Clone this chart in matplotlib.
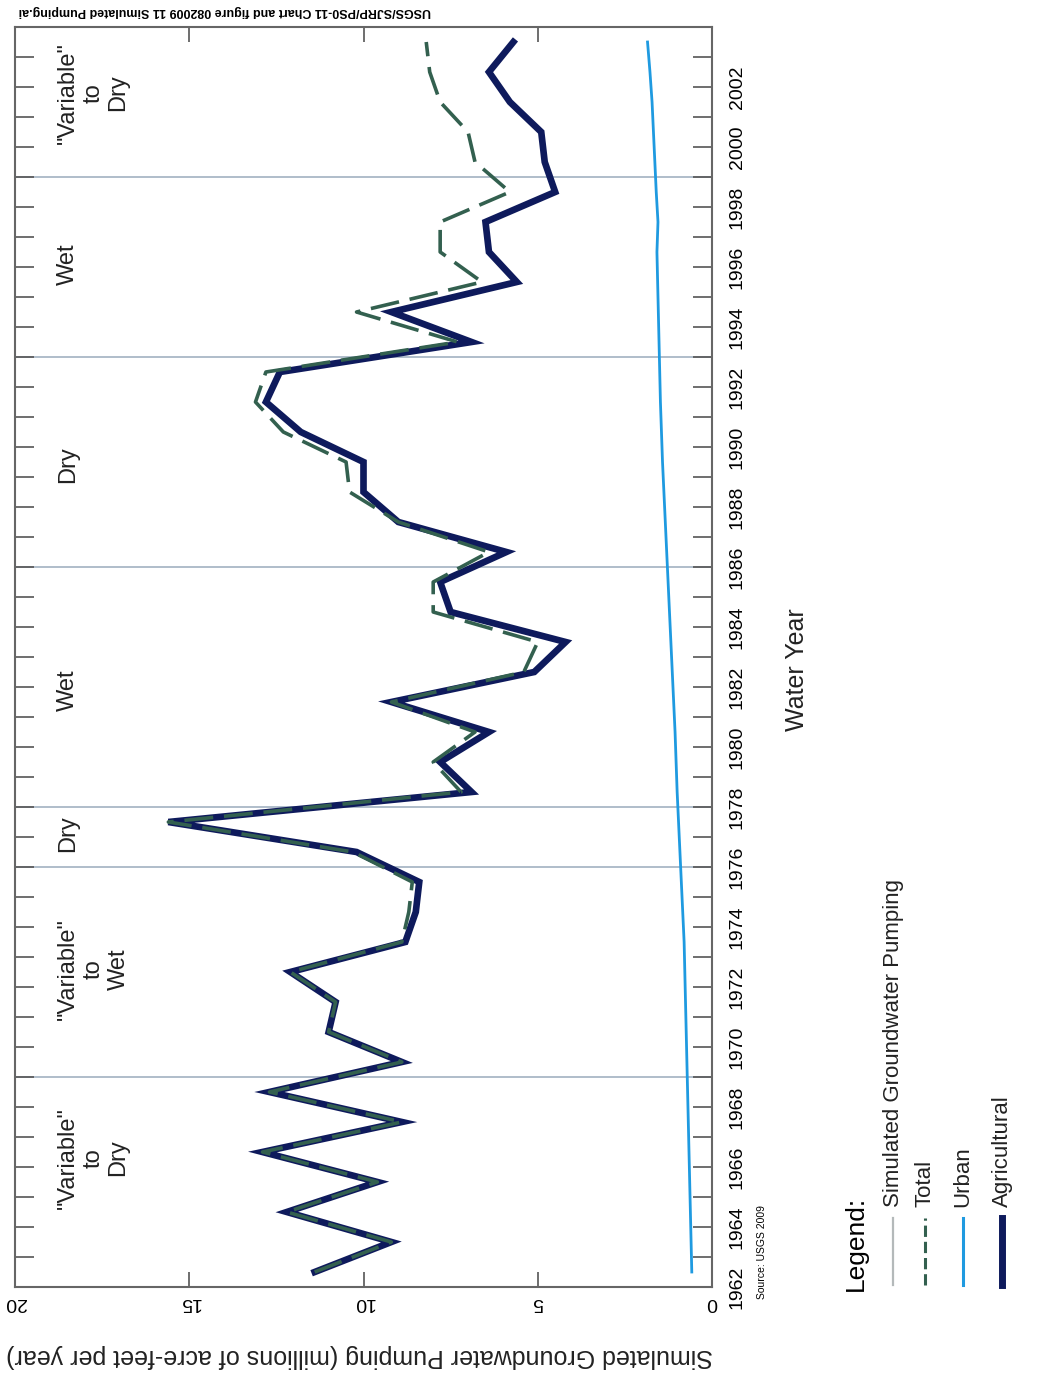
# -*- coding: utf-8 -*-
# Simulated groundwater pumping, drawn turned a quarter turn (years run upward)

import numpy as np
import matplotlib.pyplot as plt
from matplotlib import font_manager
from matplotlib.lines import Line2D

#  字体：有窄体就用窄体
names = {f.name for f in font_manager.fontManager.ttflist}
ziti = 'Liberation Sans Narrow' if 'Liberation Sans Narrow' in names else 'Liberation Sans'
plt.rcParams['font.family'] = [ziti, 'DejaVu Sans']

#  数据
years = list(range(1962, 2004))
agricultural = [11.4, 9.2, 12.2, 9.6, 12.9, 8.9, 12.7, 8.9, 11.0, 10.8,
                12.1, 8.8, 8.5, 8.4, 10.2, 15.6, 6.9, 7.8, 6.4, 9.2,
                5.1, 4.2, 7.5, 7.8, 5.9, 9.0, 10.0, 10.0, 11.8, 12.8,
                12.4, 6.9, 9.2, 5.6, 6.4, 6.5, 4.5, 4.8, 4.9, 5.8,
                6.4, 5.7]
total = [11.4, 9.2, 12.2, 9.6, 12.9, 8.9, 12.7, 8.9, 11.0, 10.8,
         12.1, 8.9, 8.7, 8.6, 10.3, 15.6, 7.2, 8.0, 6.8, 9.2,
         5.4, 5.0, 8.0, 8.0, 6.4, 9.0, 10.4, 10.5, 12.3, 13.1,
         12.8, 7.3, 10.2, 6.6, 7.8, 7.8, 5.8, 6.8, 7.0, 7.8,
         8.1, 8.2]
urban = [0.58, 0.6, 0.62, 0.64, 0.66, 0.68, 0.7, 0.72, 0.74, 0.76,
         0.78, 0.8, 0.84, 0.88, 0.92, 0.96, 1.0, 1.03, 1.06, 1.1,
         1.14, 1.18, 1.22, 1.26, 1.3, 1.34, 1.38, 1.42, 1.45, 1.48,
         1.5, 1.52, 1.54, 1.56, 1.58, 1.55, 1.6, 1.64, 1.68, 1.72,
         1.78, 1.85]

#  时期分界和名称
boundaries = [1968.5, 1975.5, 1977.5, 1985.5, 1992.5, 1998.5]
period_names = ['"Variable"\nto\nDry', '"Variable"\nto\nWet', 'Dry', 'Wet',
                'Dry', 'Wet', '"Variable"\nto\nDry']
period_pos = [1965.8, 1972.1, 1976.6, 1981.4, 1988.9, 1995.6, 2001.3]

#  颜色
navy = '#0e1a5c'
green = '#33604f'
blue = '#1f9ae0'
grey = '#b4b9ba'

fig = plt.figure(figsize=(10.45, 13.73), dpi=100)
W, H = 1045.0, 1373.0
ax = fig.add_axes([15 / W, 1 - 1287 / H, 697 / W, 1260 / H])

#  分界线
for b in boundaries:
    ax.axhline(b, color='#a9b8c6', lw=1.3, zorder=1)

#  曲线
ax.plot(urban, years, color=blue, lw=2, zorder=3)
ax.plot(agricultural, years, color=navy, lw=4.8, solid_joinstyle='miter', zorder=4)
ax.plot(total, years, color=green, lw=2.6, dashes=(8, 3), zorder=5)

#  时期名称
for t, p in zip(period_names, period_pos):
    ax.text(18.8, p, t, rotation=90, ha='left', va='center',
            multialignment='center', fontsize=17, color='#222222')

ax.set_xlim(20, 0)
ax.set_ylim(1961.5, 2003.5)

#  刻度
ax.set_xticks([0, 5, 10, 15, 20])
ax.tick_params(axis='x', direction='in', length=11, width=1.2, top=True,
               labelrotation=180, labelsize=14, pad=5, color='#555555')
ax.set_yticks(list(range(1962, 2003, 2)))
ax.set_yticks(np.arange(1961.5, 2004, 1), minor=True)
ax.tick_params(axis='y', which='major', length=0, labelleft=False,
               labelright=True, labelrotation=90, labelsize=14, pad=12)
ax.tick_params(axis='y', which='minor', direction='in', length=14, width=1.2,
               left=True, right=True, color='#555555')
for s in ax.spines.values():
    s.set_color('#666666')
    s.set_linewidth(1.5)

#  轴标题
ax.set_xlabel('Simulated Groundwater Pumping (millions of acre-feet per year)',
              rotation=180, fontsize=18, color='#222222')
ax.xaxis.set_label_coords(0.495, -0.045)
ax.yaxis.set_label_position('right')
ax.set_ylabel('Water Year', rotation=90, fontsize=18, color='#222222')
ax.yaxis.set_label_coords(1.105, 0.49)

#  小字
fig.text(762 / W, 1 - 1252 / H, 'Source: USGS 2009', rotation=90,
         ha='center', va='center', fontsize=7.5)
fig.text(225 / W, 1 - 11 / H,
         'USGS/SJRP/PS0-11 Chart and figure 082009 11 Simulated Pumping.ai',
         rotation=180, ha='center', va='center', fontsize=9, weight='bold')

#  图例（竖着画）
fig.text(856 / W, 1 - 1243 / H, 'Legend:', rotation=90, ha='center',
         va='center', fontsize=19)
keys = [('Simulated Groundwater Pumping', grey, 1.6, '-'),
        ('Total', green, 2.2, '--'),
        ('Urban', blue, 2.2, '-'),
        ('Agricultural', navy, 5, '-')]
for i, (lab, co, lw, ls) in enumerate(keys):
    xx = [893, 925, 963, 1002][i] / W
    fig.add_artist(Line2D([xx, xx], [1 - 1285 / H, 1 - 1218 / H], color=co,
                          lw=lw, ls=ls, transform=fig.transFigure))
    fig.text(xx, 1 - 1207 / H, lab, rotation=90, ha='center', va='bottom',
             fontsize=16, color='#222222')

plt.savefig('out.png', dpi=100)
